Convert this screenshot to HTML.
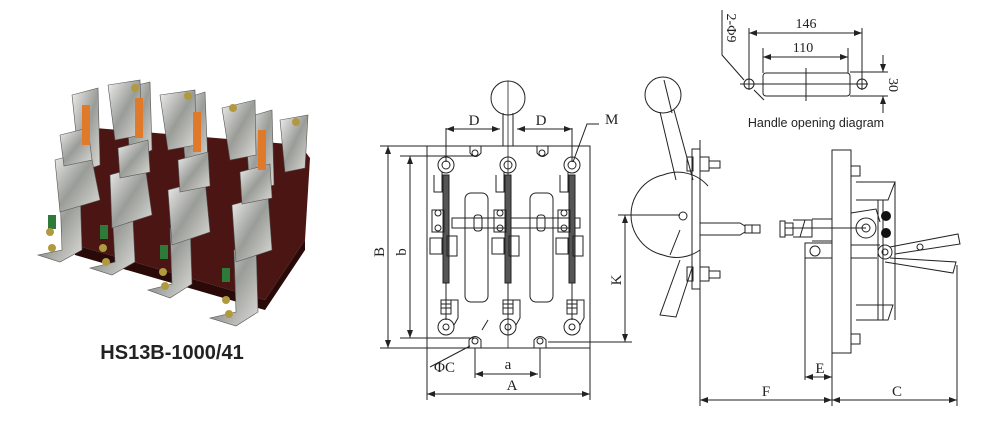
<!DOCTYPE html>
<html><head><meta charset="utf-8"><style>
html,body{margin:0;padding:0;background:#fff;width:984px;height:441px;overflow:hidden}
svg{display:block}
text{font-family:"Liberation Serif",serif;fill:#222}
</style></head><body>
<svg width="984" height="441" viewBox="0 0 984 441" xmlns="http://www.w3.org/2000/svg">
<defs>
<marker id="ar" markerWidth="8" markerHeight="6" refX="8" refY="3" orient="auto-start-reverse" markerUnits="userSpaceOnUse"><path d="M0,0 L8,3 L0,6 z" fill="#222"/></marker>
<linearGradient id="met" x1="0" y1="0" x2="1" y2="1"><stop offset="0" stop-color="#f0f0ee"/><stop offset="0.5" stop-color="#9a9c98"/><stop offset="1" stop-color="#dcdcd8"/></linearGradient>
</defs>
<!-- Photo -->
<g>
<polygon points="95,128 300,145 310,158 305,240 265,300 75,245 72,215" fill="#4a1512"/>
<polygon points="75,245 265,300 305,240 305,250 265,310 75,255" fill="#2a0a08"/>
<g fill="url(#met)" stroke="#555" stroke-width="0.6">
<polygon points="72,95 98,88 100,165 80,172"/><polygon points="125,88 150,82 152,150 130,160"/><polygon points="180,100 205,92 208,165 186,172"/><polygon points="245,118 272,110 274,185 250,192"/>
<polygon points="108,85 140,80 142,135 115,140"/><polygon points="160,95 195,90 196,145 168,150"/><polygon points="222,108 255,100 256,155 230,160"/><polygon points="280,120 308,115 305,168 285,172"/>
<polygon points="38,255 62,250 60,192 80,188 82,250 60,262"/><polygon points="90,268 115,262 112,206 132,200 135,262 112,275"/><polygon points="148,290 172,284 170,228 190,222 192,284 170,298"/><polygon points="210,318 236,312 234,250 256,244 258,312 236,326"/>
<polygon points="55,160 90,150 100,200 60,212"/><polygon points="110,175 145,165 152,215 112,228"/><polygon points="168,190 205,180 210,232 172,245"/><polygon points="232,205 268,195 272,250 236,262"/>
<polygon points="60,135 88,128 92,160 64,166"/><polygon points="118,148 148,140 150,172 120,178"/><polygon points="178,160 208,152 210,186 180,192"/><polygon points="240,172 270,164 272,198 242,204"/>
</g>
<g fill="#e07a2a"><rect x="82" y="105" width="8" height="40"/><rect x="135" y="98" width="8" height="40"/><rect x="193" y="112" width="8" height="40"/><rect x="258" y="130" width="8" height="40"/></g>
<g fill="#2e7a3a"><rect x="48" y="215" width="8" height="14"/><rect x="100" y="225" width="8" height="14"/><rect x="160" y="245" width="8" height="14"/><rect x="222" y="268" width="8" height="14"/></g>
<g fill="#b09a40"><circle cx="50" cy="232" r="4"/><circle cx="52" cy="248" r="4"/><circle cx="103" cy="248" r="4"/><circle cx="106" cy="262" r="4"/><circle cx="163" cy="272" r="4"/><circle cx="165" cy="286" r="4"/><circle cx="226" cy="300" r="4"/><circle cx="229" cy="314" r="4"/><circle cx="135" cy="88" r="4"/><circle cx="188" cy="96" r="4"/><circle cx="233" cy="108" r="4"/><circle cx="296" cy="122" r="4"/></g>
</g>
<text x="172" y="359" text-anchor="middle" style="font-family:'Liberation Sans',sans-serif;font-weight:bold;font-size:20px" fill="#111">HS13B-1000/41</text>

<!-- Front view -->
<g fill="none" stroke="#222" stroke-width="1">
<rect x="427" y="146" width="163" height="202"/>
<circle cx="508" cy="98" r="17"/>
<path d="M503,113 V146 M513,113 V146"/>
<path d="M508,81 V348" stroke-width="0.8"/>
<path d="M446,128 V162 M572,128 V162"/>
<line x1="446" y1="129" x2="500" y2="129" marker-start="url(#ar)" marker-end="url(#ar)"/>
<line x1="517" y1="129" x2="572" y2="129" marker-start="url(#ar)" marker-end="url(#ar)"/>
<path d="M599,124 L587,124 L573,162"/>
<path d="M380,146 H427 M400,156 H478 M400,338 H475 M380,348 H427"/>
<line x1="388" y1="146" x2="388" y2="348" marker-start="url(#ar)" marker-end="url(#ar)"/>
<line x1="410" y1="156" x2="410" y2="338" marker-start="url(#ar)" marker-end="url(#ar)"/>
<path d="M470,146 V153 Q475,160 481,153 V146"/><circle cx="475" cy="153" r="3"/>
<path d="M537,146 V153 Q542,160 548,153 V146"/><circle cx="542" cy="153" r="3"/>
<path d="M469,348 V340 Q475,333 481,340 V348"/><circle cx="475" cy="341" r="3"/>
<path d="M534,348 V340 Q540,333 546,340 V348"/><circle cx="540" cy="341" r="3"/>
<rect x="465" y="193" width="23" height="109" rx="6"/>
<rect x="530" y="193" width="23" height="109" rx="6"/>
<rect x="452" y="218" width="128" height="10"/>
<rect x="474" y="215" width="8" height="16" rx="3"/><rect x="537" y="215" width="8" height="16" rx="3"/>
<g id="pole">
<circle cx="446" cy="165" r="8"/><circle cx="446" cy="165" r="4"/>
<path d="M434,175 V192 H442 V172"/>
<rect x="443" y="175" width="6" height="108" fill="#555"/>
<rect x="432" y="210" width="12" height="22"/><circle cx="438" cy="213" r="3"/><circle cx="438" cy="228" r="3"/>
<rect x="430" y="238" width="12" height="16"/><rect x="447" y="236" width="10" height="20"/>
<path d="M446,283 V320"/>
<rect x="441" y="300" width="10" height="14"/><path d="M441,304 H451 M441,308 H451"/>
<circle cx="446" cy="327" r="8"/><circle cx="446" cy="327" r="3"/>
<path d="M454,325 L458,318 V300 H451"/>
</g>
<use href="#pole" x="62"/>
<use href="#pole" x="126"/>
<path d="M430,367 L470,346"/>
<path d="M482,330 L488,320"/>
<path d="M475,348 V378 M540,348 V378 M427,348 V400 M590,348 V400"/>
<line x1="475" y1="374" x2="538" y2="374" marker-start="url(#ar)" marker-end="url(#ar)"/>
<line x1="427" y1="394" x2="590" y2="394" marker-start="url(#ar)" marker-end="url(#ar)"/>
<path d="M548,342 H632 M618,215 H680"/>
<line x1="625" y1="215" x2="625" y2="342" marker-start="url(#ar)" marker-end="url(#ar)"/>
</g>
<g font-size="15">
<text x="474" y="125" text-anchor="middle">D</text>
<text x="541" y="125" text-anchor="middle">D</text>
<text x="605" y="124">M</text>
<text x="434" y="372">ΦC</text>
<text x="508" y="369" text-anchor="middle">a</text>
<text x="512" y="390" text-anchor="middle">A</text>
<text transform="translate(384,252) rotate(-90)" text-anchor="middle">B</text>
<text transform="translate(406,252) rotate(-90)" text-anchor="middle">b</text>
<text transform="translate(621,280) rotate(-90)" text-anchor="middle">K</text>
</g>

<!-- Side view -->
<g fill="none" stroke="#222" stroke-width="1">
<circle cx="663" cy="95" r="18"/>
<path d="M660,112 L676,180 M674,110 L693,180" />
<path d="M664,80 L672,113"/>
<path d="M663,175 A40,40 0 0 1 708,186 M663,255 A40,40 0 0 0 700,250 M663,175 A41,41 0 0 0 663,255"/>
<circle cx="683" cy="216" r="4"/>
<path d="M680,260 L660,315 L676,317 L692,268 M680,230 L670,255"/>
<rect x="692" y="149" width="8" height="140"/><path d="M700,140 V295"/>
<rect x="687" y="157" width="6" height="14"/><rect x="700" y="157" width="9" height="14"/><path d="M709,161 H720 V168 H709"/>
<rect x="687" y="267" width="6" height="14"/><rect x="700" y="267" width="9" height="14"/><path d="M709,271 H720 V278 H709"/>
<path d="M700,223 H740 L745,226 V232 L740,235 H700"/>
<rect x="745" y="225" width="15" height="8"/><path d="M752,225 V233"/>
<rect x="780" y="221" width="5" height="16"/><rect x="785" y="223" width="8" height="12"/>
<path d="M793,220 H812 V237 H793 M800,237 L805,220 M812,219 H832 V241 H812"/>
<line x1="785" y1="228" x2="866" y2="228"/>
<circle cx="866" cy="228" r="10"/><circle cx="866" cy="228" r="4"/>
<path d="M851,213 L876,209 L880,222"/>
<rect x="832" y="150" width="19" height="203"/>
<path d="M805,243 H832 V258 H805 Z M805,243 V380"/><circle cx="815" cy="251" r="5"/>
<rect x="851" y="166" width="9" height="10"/><rect x="851" y="334" width="9" height="10"/>
<path d="M856,182 H895 L888,200 H856 M856,305 H893 L888,320 H856"/>
<path d="M878,200 V320 M883,200 V320 M895,182 V320"/>
<path d="M851,258 H877 M851,245 H880"/>
<circle cx="885" cy="252" r="7"/><circle cx="885" cy="252" r="3"/>
<path d="M890,247 L958,234 L960,244 L895,254 M890,258 L956,262 L953,273 L885,262"/>
<circle cx="920" cy="247" r="3"/>
<path d="M700,290 V406 M832,353 V406 M957,265 V406"/>
<line x1="805" y1="377" x2="832" y2="377" marker-start="url(#ar)" marker-end="url(#ar)"/>
<line x1="700" y1="400" x2="832" y2="400" marker-start="url(#ar)" marker-end="url(#ar)"/>
<line x1="832" y1="400" x2="957" y2="400" marker-start="url(#ar)" marker-end="url(#ar)"/>
</g>
<g fill="#111"><circle cx="886" cy="216" r="5"/><circle cx="886" cy="233" r="5"/></g>
<g font-size="15">
<text x="820" y="373" text-anchor="middle">E</text>
<text x="766" y="396" text-anchor="middle">F</text>
<text x="897" y="396" text-anchor="middle">C</text>
</g>

<!-- Handle opening diagram -->
<g fill="none" stroke="#222" stroke-width="1">
<rect x="763" y="73" width="87" height="23" rx="3"/>
<path d="M806,68 V101 M740,84 H868"/>
<circle cx="749" cy="84" r="5"/><circle cx="862" cy="84" r="5"/>
<path d="M749,28 V90 M862,28 V90 M763,48 V73 M848,48 V73"/>
<line x1="749" y1="33" x2="862" y2="33" marker-start="url(#ar)" marker-end="url(#ar)"/>
<line x1="763" y1="57" x2="848" y2="57" marker-start="url(#ar)" marker-end="url(#ar)"/>
<path d="M850,72 H888 M850,96 H888"/>
<line x1="883" y1="55" x2="883" y2="72" marker-end="url(#ar)"/>
<line x1="883" y1="113" x2="883" y2="96" marker-end="url(#ar)"/>
<path d="M722,10 V55 L744,80 M754,90 L764,100"/>
</g>
<g font-size="14">
<text x="806" y="28" text-anchor="middle">146</text>
<text x="803" y="52" text-anchor="middle">110</text>
<text transform="translate(889,85) rotate(90)" text-anchor="middle">30</text>
<text transform="translate(727,28) rotate(90)" text-anchor="middle">2-Φ9</text>
</g>
<text x="816" y="127" text-anchor="middle" style="font-family:'Liberation Sans',sans-serif;font-size:12.5px">Handle opening diagram</text>
</svg>
</body></html>
